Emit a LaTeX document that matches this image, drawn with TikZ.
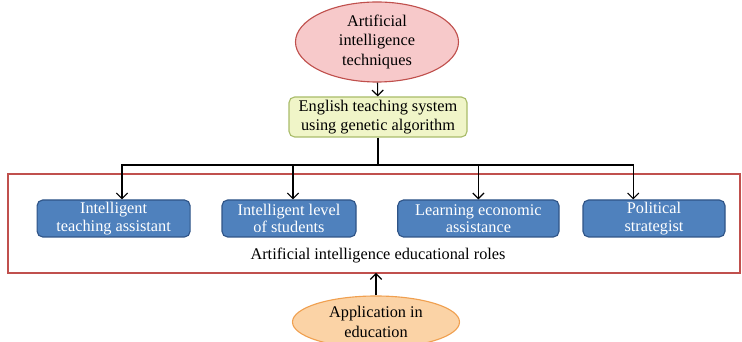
\documentclass[tikz,border=0pt]{standalone}
\usepackage{fontspec}
\setmainfont{Liberation Serif}
\usetikzlibrary{shapes.geometric,arrows.meta}
\definecolor{pinkfill}{HTML}{F7C9CA}
\definecolor{pinkline}{HTML}{C0504D}
\definecolor{yelfill}{HTML}{F0F5C8}
\definecolor{yelline}{HTML}{A9BC6A}
\definecolor{bluefill}{HTML}{4F81BD}
\definecolor{blueline}{HTML}{2F5487}
\definecolor{orfill}{HTML}{FBD3A6}
\definecolor{orline}{HTML}{F0A050}
\definecolor{frame}{HTML}{C0504D}
\tikzstyle{oval}=[ellipse, thick, align=center, inner sep=0pt, font=\fontsize{11.6}{14}\selectfont]
\tikzstyle{role}=[rectangle, rounded corners=4pt, thick, fill=bluefill, draw=blueline, text=white, align=center, minimum height=0.925cm, inner sep=1pt, font=\fontsize{11.6}{12.4}\selectfont]
\tikzstyle{annot}=[align=center, font=\fontsize{11.6}{13.2}\selectfont]
\tikzstyle{link}=[thick, -{Straight Barb[length=4pt,width=8pt]}]
\begin{document}
\begin{tikzpicture}
	\useasboundingbox (0,0) rectangle (18.55,8.55);

	\node[oval, fill=pinkfill, draw=pinkline, minimum width=4.075cm, minimum height=2cm](tech) at (9.425,7.5){Artificial\\intelligence\\techniques};
	\node[rectangle, rounded corners=4pt, thick, fill=yelfill, draw=yelline, minimum width=4.45cm, minimum height=1cm, inner sep=1pt, annot](sys) at (9.45,5.625){English teaching system\\using genetic algorithm};

	\draw[frame, very thick] (0.2,4.2) rectangle (18.5,1.725);

	\node[role, minimum width=3.825cm](assist) at (2.84,3.0875){Intelligent\\teaching assistant};
	\node[role, minimum width=3.35cm](level) at (7.225,3.0875){Intelligent level\\of students};
	\node[role, minimum width=4.03cm](econ) at (11.96,3.0875){Learning economic\\assistance};
	\node[role, minimum width=3.55cm](polit) at (16.35,3.0875){Political\\strategist};

	\node[annot](roles) at (9.45,2.15){Artificial intelligence educational roles};

	\node[oval, fill=orfill, draw=orline, minimum width=4.175cm, minimum height=1.3cm](appl) at (9.4,0.5){Application in\\education};

	\coordinate (bus) at (9.45,4.425);

	\draw[link] (tech) -- (sys);
	\draw[thick] (sys) -- (bus);
	\draw[link] (bus) -| ([xshift=0.21cm]assist.north);
	\draw[link] (bus) -| ([xshift=0.1cm]level.north);
	\draw[link] (bus) -| (econ.north);
	\draw[link] (bus) -| ([xshift=-0.52cm]polit.north);
	\draw[link] (appl.north) -- (appl.north |- 0,1.725);

\end{tikzpicture}
\end{document}
